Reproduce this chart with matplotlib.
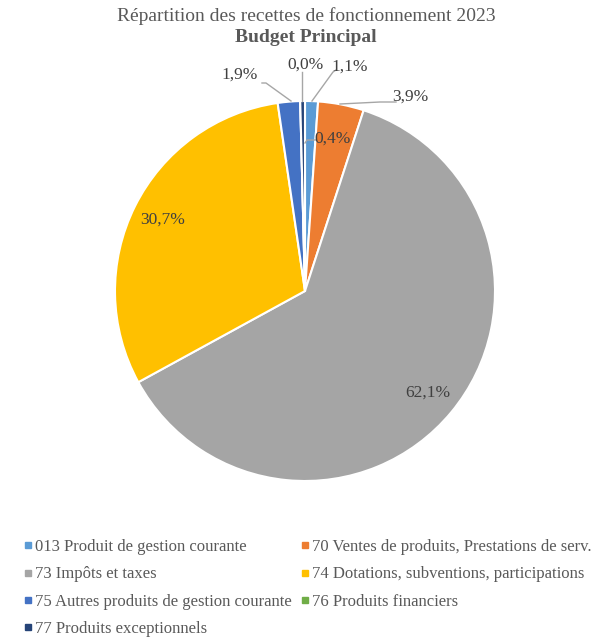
import matplotlib.pyplot as plt
from matplotlib.lines import Line2D
import numpy as np

categories = ["013 Produit de gestion courante",
              "70 Ventes de produits, Prestations de serv.",
              "73 Impôts et taxes",
              "74 Dotations, subventions, participations",
              "75 Autres produits de gestion courante",
              "76 Produits financiers",
              "77 Produits exceptionnels"]
values = [1.1, 3.9, 62.1, 30.7, 1.9, 0.0, 0.4]
labels = ["1,1%", "3,9%", "62,1%", "30,7%", "1,9%", "0,0%", "0,4%"]
colors = ["#5B9BD5", "#ED7D31", "#A5A5A5", "#FFC000", "#4472C4", "#70AD47", "#264478"]

FAM = ['Liberation Serif', 'DejaVu Serif']
plt.rcParams['font.family'] = FAM

W, H = 603, 637
fig = plt.figure(figsize=(W/100, H/100), dpi=100)
ax = fig.add_axes([0, 0, 1, 1])
ax.axis('off')

tc = "#595959"
lab_c = "#404040"

cx, cy, R = 305, H - 291, 190
wedges, _ = ax.pie(values, colors=colors, startangle=90, counterclock=False,
                   center=(cx, cy), radius=R,
                   wedgeprops=dict(edgecolor='white', linewidth=1.5))
ax.set_aspect('equal')
ax.set_xlim(0, W)
ax.set_ylim(0, H)

def mid(i):
    w = wedges[i]
    a = np.deg2rad((w.theta1 + w.theta2) / 2)
    return np.cos(a), np.sin(a)

LFS = 12.5
for i in (2, 3):
    c, s = mid(i)
    ax.text(cx + 0.84*R*c, cy + 0.84*R*s, labels[i], ha='center', va='center',
            fontsize=LFS, color=lab_c, family=FAM)

lc = "#A6A6A6"
def py(y):
    return H - y

outs = [
    (4, (240, 75), [(262, 83), (266, 83), (291, 101)]),
    (5, (305, 65), [(302, 72), (302, 101)]),
    (0, (350, 67), [(336, 70), (333, 72), (312, 101)]),
    (1, (410, 97), [(396, 102), (380, 102), (340, 104)]),
    (6, (333, 139), [(316, 140), (307, 140), (305, 143)]),
]
for i, (tx, ty), pts in outs:
    xs = [p[0] for p in pts]
    ys = [py(p[1]) for p in pts]
    ax.plot(xs, ys, color=lc, lw=1)
    ax.text(tx, py(ty), labels[i], ha='center', va='center', fontsize=LFS,
            color=lab_c, family=FAM)

fig.text(306/W, 1 - 16/H, "Répartition des recettes de fonctionnement 2023",
         ha='center', va='center', fontsize=14, color=tc, family=FAM)
fig.text(306/W, 1 - 38/H, "Budget Principal", ha='center', va='center',
         fontsize=14, fontweight='bold', color=tc, family=FAM)

handles = [Line2D([], [], marker='s', linestyle='none', markersize=5,
                  markerfacecolor=colors[i], markeredgecolor=colors[i]) for i in range(7)]
LEGFS = 12.0
kw = dict(loc='upper left', frameon=False, prop={'family': FAM, 'size': LEGFS},
          handlelength=0.4, handletextpad=0.25, labelspacing=0.68, borderpad=0,
          borderaxespad=0, bbox_transform=fig.transFigure)
col1 = [0, 2, 4, 6]
col2 = [1, 3, 5]
top = 1 - 539/H
leg1 = ax.legend([handles[i] for i in col1], [categories[i] for i in col1],
                 bbox_to_anchor=(24.5/W, top), **kw)
ax.add_artist(leg1)
leg2 = ax.legend([handles[i] for i in col2], [categories[i] for i in col2],
                 bbox_to_anchor=(301.5/W, top), **kw)
for lg in (leg1, leg2):
    for t in lg.get_texts():
        t.set_color(tc)

fig.savefig("out.png", dpi=100)
